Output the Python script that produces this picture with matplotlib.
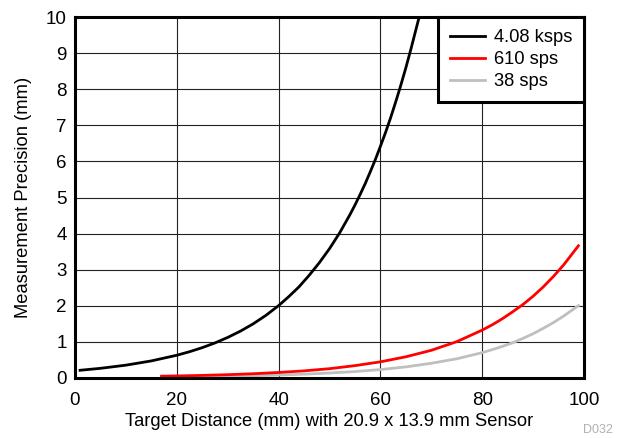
import matplotlib
matplotlib.use("Agg")
import matplotlib.pyplot as plt
import numpy as np

plt.rcParams['font.family'] = ['Liberation Sans', 'DejaVu Sans']

# Data
x_black = [1, 5, 10, 15, 20, 22.5, 25, 27.5, 30, 32.5, 35, 37.5, 40, 42, 44, 46, 48, 50,
           52, 54, 55, 56, 57, 58, 59, 60, 61, 62, 63, 64, 65, 66, 67, 67.6]
y_black = [0.206, 0.26, 0.348, 0.466, 0.623, 0.721, 0.834, 0.965, 1.117, 1.292, 1.494,
           1.729, 2.0, 2.25, 2.52, 2.84, 3.19, 3.58, 4.02, 4.52, 4.79, 5.08, 5.38, 5.71,
           6.05, 6.42, 6.80, 7.21, 7.65, 8.11, 8.60, 9.12, 9.67, 10.0]

x_red = [17, 20, 25, 30, 35, 40, 45, 50, 55, 60, 65, 70, 75, 80, 82, 84, 86, 88, 90, 92,
         94, 96, 98.9]
y_red = [0.042, 0.049, 0.064, 0.084, 0.11, 0.145, 0.19, 0.25, 0.335, 0.44, 0.58, 0.76, 1.00,
         1.32, 1.47, 1.64, 1.83, 2.03, 2.26, 2.52, 2.81, 3.13, 3.66]

x_gray = [17, 20, 25, 30, 35, 40, 45, 50, 55, 60, 65, 70, 75, 80, 82, 84, 86, 88, 90, 92,
          94, 96, 98.9]
y_gray = [0.02, 0.024, 0.032, 0.042, 0.056, 0.074, 0.098, 0.13, 0.17, 0.226, 0.30, 0.40,
          0.525, 0.695, 0.78, 0.87, 0.97, 1.09, 1.22, 1.37, 1.53, 1.71, 2.0]

labels = ['4.08 ksps', '610 sps', '38 sps']
colors = ['#000000', '#ff0000', '#bfbfbf']

FS = 13.2

fig = plt.figure(figsize=(6.21, 4.38), dpi=100)
ax = fig.add_axes([75/621, 1 - 377.7/438, (584-75)/621, (377.7-17.3)/438])

ax.plot(x_gray, y_gray, color=colors[2], lw=2, label=labels[2], zorder=3)
ax.plot(x_red, y_red, color=colors[1], lw=2, label=labels[1], zorder=4)
ax.plot(x_black, y_black, color=colors[0], lw=2, label=labels[0], zorder=5)

ax.set_xlim(0, 100)
ax.set_ylim(0, 10)
ax.set_xticks(np.arange(0, 101, 20))
ax.set_yticks(np.arange(0, 11, 1))
ax.grid(True, color='#222222', lw=0.8)
ax.tick_params(axis='x', length=0, labelsize=13.5, pad=10)
ax.tick_params(axis='y', length=0, labelsize=13.5, pad=6)
for s in ax.spines.values():
    s.set_linewidth(2.2)
    s.set_zorder(10)

ax.set_xlabel('Target Distance (mm) with 20.9 x 13.9 mm Sensor', fontsize=FS, labelpad=3)
ax.set_ylabel('Measurement Precision (mm)', fontsize=FS, labelpad=10)

h, l = ax.get_legend_handles_labels()
order = [2, 1, 0]
leg = ax.legend([h[i] for i in order], [l[i] for i in order], loc='upper right',
                fontsize=FS, frameon=True, fancybox=False, borderaxespad=0,
                handlelength=1.9, handletextpad=0.5, labelspacing=0.28,
                borderpad=0.65)
leg.get_frame().set_edgecolor('black')
leg.get_frame().set_linewidth(2.2)
leg.get_frame().set_alpha(1)
leg.set_zorder(11)

fig.text(598/621, 1 - 430/438, 'D032', color='#b0b0b0', fontsize=9, ha='center', va='center')

fig.savefig('out.png', dpi=100)
